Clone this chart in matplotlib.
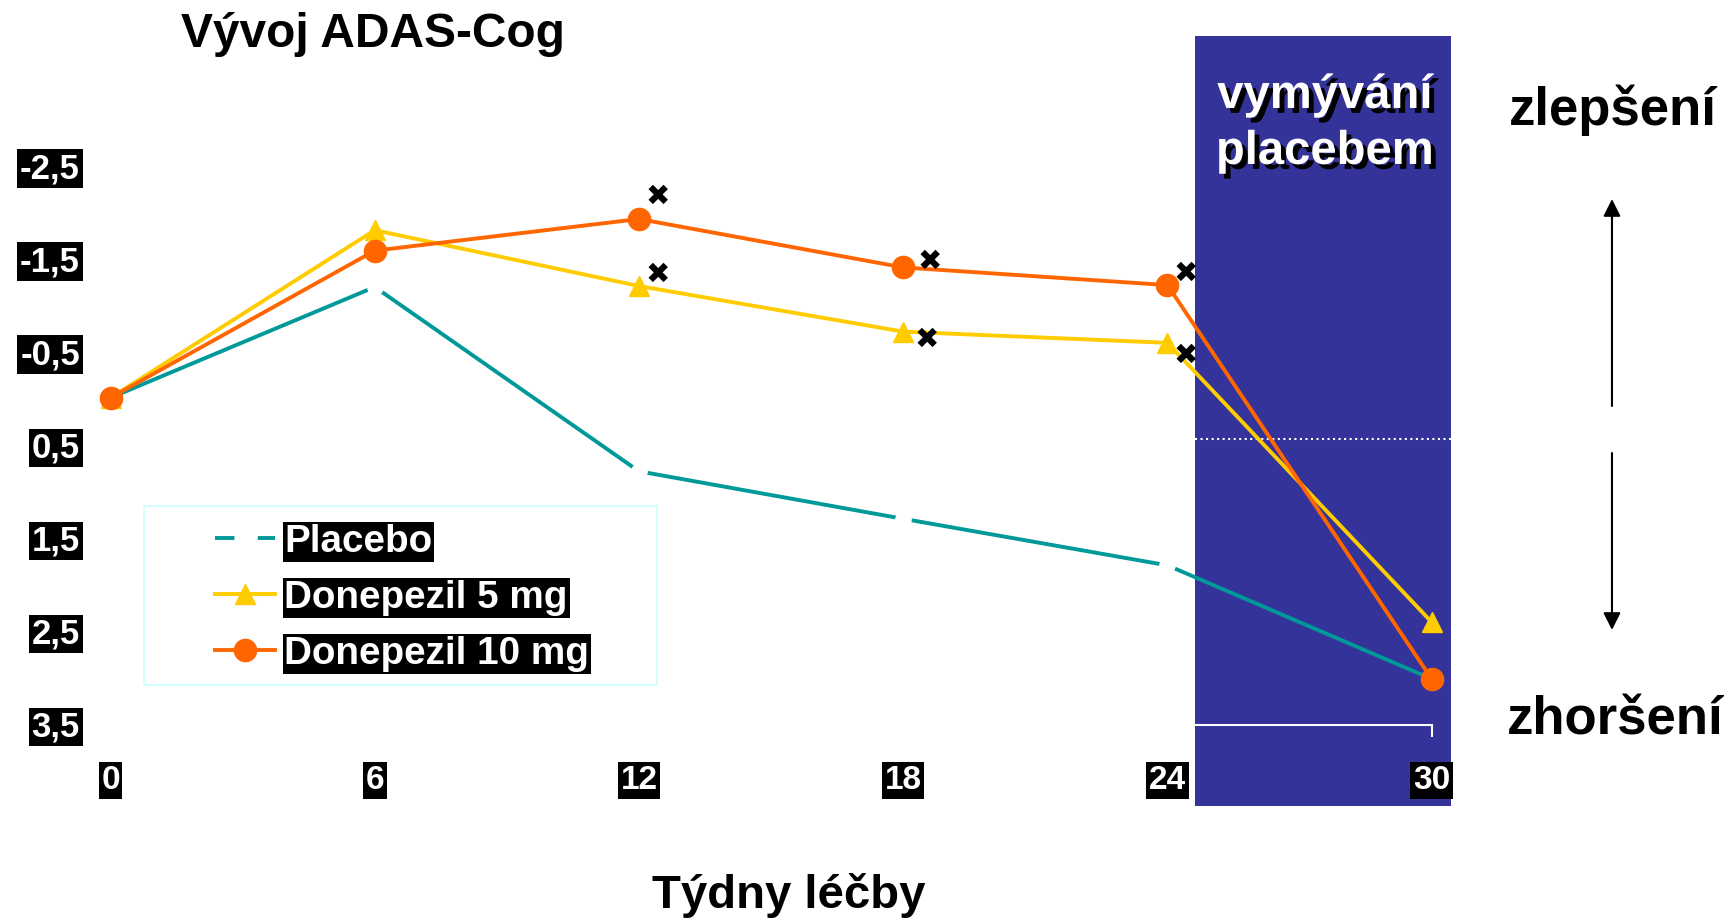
import matplotlib
matplotlib.use('Agg')
import matplotlib.pyplot as plt
import matplotlib.patheffects as pe
from matplotlib.patches import Rectangle
from matplotlib.lines import Line2D

# data (change in ADAS-Cog, negative = improvement)
weeks = [0, 6, 12, 18, 24, 30]
placebo = [0, -1.19, 0.79, 1.30, 1.80, 3.02]
donepezil_5 = [0, -1.80, -1.20, -0.71, -0.59, 2.41]
donepezil_10 = [0, -1.58, -1.92, -1.40, -1.21, 3.02]
y_ticks = [-2.5, -1.5, -0.5, 0.5, 1.5, 2.5, 3.5]
y_labels = ['-2,5', '-1,5', '-0,5', '0,5', '1,5', '2,5', '3,5']
sig_weeks = [12, 18, 24]
washout_start = 24.63
washout_end = 30.44

c_placebo = '#009999'
c_5mg = '#FFCC00'
c_10mg = '#FF6600'
c_box = '#333399'

plt.rcParams['font.family'] = 'Liberation Sans'
plt.rcParams['font.weight'] = 'bold'

fig = plt.figure(figsize=(17.32, 9.21), dpi=100)
ax = fig.add_axes([0.0638, 0.2123, 0.7628, 0.6894])
ax.set_xlim(0, 30)
ax.set_ylim(3.52, -3.3)

# wash-out period box
ax.add_patch(Rectangle((washout_start, -3.885), washout_end - washout_start, 8.27,
                       facecolor=c_box, edgecolor='none', zorder=0.5, clip_on=False))
ax.hlines(0.44, washout_start, washout_end, colors='white', linestyles=':', lw=1.5,
          zorder=0.6, clip_on=False)

# lines
ax.plot(weeks, placebo, color=c_placebo, lw=2.8, marker='o', markevery=[1, 2, 3, 4],
        ms=11, mfc='white', mec='white', zorder=2, clip_on=False)
ax.plot(weeks, donepezil_5, color=c_5mg, lw=2.8, marker='^', ms=14, zorder=3, clip_on=False)
ax.plot(weeks, donepezil_10, color=c_10mg, lw=2.8, marker='o', ms=16, zorder=4, clip_on=False)

# significance marks
offs_10 = {12: (13.5, 16), 18: (19, 4), 24: (13, 8)}
offs_5 = {12: (13.5, 8), 18: (17, -6), 24: (13, -9.5)}
for w, v5, v10 in zip(weeks, donepezil_5, donepezil_10):
    if w in sig_weeks:
        ax.annotate('✖', xy=(w, v10), xytext=offs_10[w], textcoords='offset points',
                    ha='center', va='center', fontsize=21, family='DejaVu Sans', zorder=6)
        ax.annotate('✖', xy=(w, v5), xytext=offs_5[w], textcoords='offset points',
                    ha='center', va='center', fontsize=21, family='DejaVu Sans', zorder=6)

# axes
for s in ['left', 'top', 'right']:
    ax.spines[s].set_visible(False)
ax.spines['bottom'].set_color('white')
ax.spines['bottom'].set_linewidth(1.5)

ax.set_yticks(y_ticks, y_labels)
ax.tick_params(axis='y', length=0, pad=22, labelsize=25, labelcolor='white')
for lab in ax.get_yticklabels():
    lab.set_bbox(dict(facecolor='black', edgecolor='none', pad=2))

ax.set_xticks(weeks, [str(w) for w in weeks])
ax.tick_params(axis='x', length=8.5, width=1.5, color='white', pad=20, labelsize=24,
               labelcolor='white')
for lab in ax.get_xticklabels():
    lab.set_bbox(dict(facecolor='black', edgecolor='none', pad=2))

# legend
handles = [Line2D([], [], color=c_placebo, lw=2.8, dashes=(5, 6)),
           Line2D([], [], color=c_5mg, lw=2.8, marker='^', ms=14),
           Line2D([], [], color=c_10mg, lw=2.8, marker='o', ms=16)]
leg = ax.legend(handles, ['Placebo', 'Donepezil 5 mg', 'Donepezil 10 mg'], loc='upper left',
                bbox_to_anchor=(0.1241, 0.4315), bbox_transform=fig.transFigure,
                frameon=False, fontsize=27.8, handlelength=1.55, handletextpad=0.25,
                labelspacing=0.52, borderpad=0, borderaxespad=0)
for t in leg.get_texts():
    t.set_color('white')
    t.set_bbox(dict(facecolor='black', edgecolor='none', pad=1.5))
fig.add_artist(Rectangle((0.0831, 0.2562), 0.2962, 0.1944, transform=fig.transFigure,
                         fill=False, edgecolor='#CCFFFF', lw=1.2))

# texts
fig.text(0.2154, 0.962, 'Vývoj ADAS-Cog', ha='center', va='center', fontsize=34.5)
fig.text(0.4555, 0.0282, 'Týdny léčby', ha='center', va='center', fontsize=34)
shadow = [pe.withSimplePatchShadow(offset=(3.5, -3.5), shadow_rgbFace='black', alpha=1.0)]
fig.text(0.765, 0.8958, 'vymývání', ha='center', va='center', fontsize=34, color='white',
         path_effects=shadow)
fig.text(0.765, 0.835, 'placebem', ha='center', va='center', fontsize=34, color='white',
         path_effects=shadow)
fig.text(0.9313, 0.8806, 'zlepšení', ha='center', va='center', fontsize=38)
fig.text(0.9325, 0.2182, 'zhoršení', ha='center', va='center', fontsize=38)

# arrows
arrow = dict(arrowstyle='-|>', color='black', lw=1.5, mutation_scale=26, shrinkA=0, shrinkB=0)
ax.annotate('', xy=(0.9307, 0.7839), xytext=(0.9307, 0.5592), xycoords='figure fraction',
            arrowprops=arrow)
ax.annotate('', xy=(0.9307, 0.3160), xytext=(0.9307, 0.5081), xycoords='figure fraction',
            arrowprops=arrow)

fig.savefig('out.png', dpi=100)
